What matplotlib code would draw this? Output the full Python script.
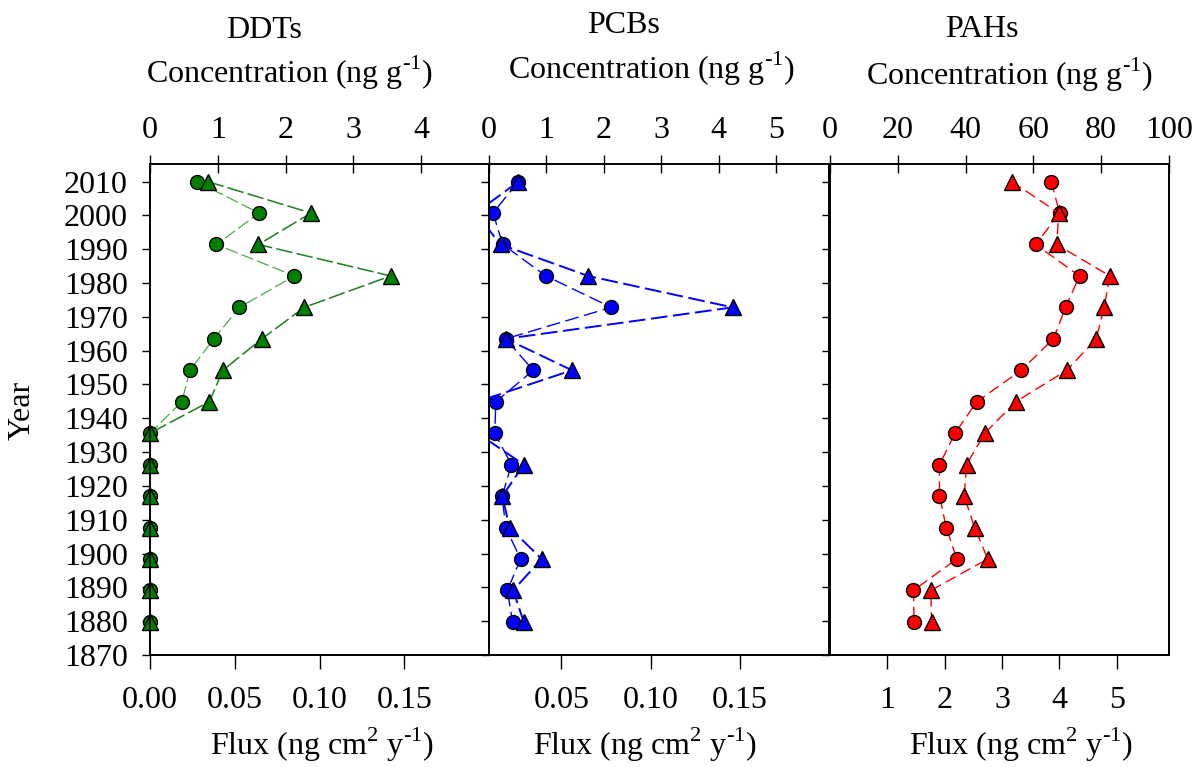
import matplotlib
matplotlib.use("Agg")
import matplotlib.pyplot as plt

plt.rcParams['font.family'] = ['Liberation Serif', 'DejaVu Serif']
plt.rcParams['mathtext.fontset'] = 'custom'
plt.rcParams['mathtext.rm'] = 'Liberation Serif'
plt.rcParams['lines.scale_dashes'] = False

# ---- data ----
years = [2010.0, 2000.7, 1991.4, 1982.1, 1972.8, 1963.5, 1954.2, 1944.9,
         1935.6, 1926.3, 1917.0, 1907.7, 1898.4, 1889.1, 1879.8]

ddt_conc = [0.69, 1.61, 0.98, 2.13, 1.32, 0.94, 0.59, 0.47, 0, 0, 0, 0, 0, 0, 0]
ddt_flux = [0.034, 0.095, 0.064, 0.142, 0.091, 0.066, 0.043, 0.035, 0, 0, 0, 0, 0, 0, 0]

pcb_conc = [0.51, 0.07, 0.24, 0.99, 2.13, 0.29, 0.77, 0.12, 0.10, 0.39, 0.23, 0.29, 0.55, 0.32, 0.41]
pcb_flux = [0.026, 0.002, 0.016, 0.065, 0.146, 0.019, 0.056, 0.003, 0.003, 0.029, 0.017, 0.021, 0.039, 0.023, 0.029]

pah_conc = [65.3, 67.7, 60.7, 73.6, 69.5, 65.9, 56.4, 43.3, 36.9, 32.3, 32.3, 34.3, 37.4, 24.6, 24.8]
pah_flux = [3.17, 3.99, 3.95, 4.88, 4.78, 4.64, 4.13, 3.24, 2.70, 2.38, 2.34, 2.52, 2.75, 1.76, 1.77]

titles = ['DDTs', 'PCBs', 'PAHs']
year_ticks = list(range(1870, 2011, 10))

ddt_conc_ticks = [0, 1, 2, 3, 4]
pcb_conc_ticks = [0, 1, 2, 3, 4, 5]
pah_conc_ticks = [0, 20, 40, 60, 80, 100]
ddt_flux_ticks = [0.00, 0.05, 0.10, 0.15]
ddt_flux_labels = ['0.00', '0.05', '0.10', '0.15']
pcb_flux_ticks = [0.05, 0.10, 0.15]
pcb_flux_labels = ['0.05', '0.10', '0.15']
pah_flux_ticks = [1, 2, 3, 4, 5]
pah_flux_labels = ['1', '2', '3', '4', '5']

W, H = 1198, 767
fig = plt.figure(figsize=(W / 100, H / 100), dpi=100)

FS = 23
panels = [
    dict(left=150, right=489, conc=ddt_conc, flux=ddt_flux, color='green',
         cline='#4da64d', fline='#1a801a',
         cxlim=(0, 5), fxlim=(0, 0.2), cticks=ddt_conc_ticks,
         fticks=ddt_flux_ticks, flabels=ddt_flux_labels, clip=False,
         c_ls=dict(lw=0.9, dashes=(9, 3)),
         f_ls=dict(lw=1.1, dashes=(12, 3))),
    dict(left=489, right=829, conc=pcb_conc, flux=pcb_flux, color='blue',
         cline='blue', fline='blue',
         cxlim=(0, 5.92), fxlim=(0.0095, 0.2), cticks=pcb_conc_ticks,
         fticks=pcb_flux_ticks, flabels=pcb_flux_labels, clip=True,
         c_ls=dict(lw=1.0, dashes=(10, 4)),
         f_ls=dict(lw=1.4, dashes=(12, 4))),
    dict(left=830, right=1169, conc=pah_conc, flux=pah_flux, color='red',
         cline='red', fline='red',
         cxlim=(0, 100), fxlim=(0, 5.91), cticks=pah_conc_ticks,
         fticks=pah_flux_ticks, flabels=pah_flux_labels, clip=True,
         c_ls=dict(lw=1.0, dashes=(8, 4)),
         f_ls=dict(lw=1.0, dashes=(8, 4))),
]

top_px, bot_px = 164, 655
for i, p in enumerate(panels):
    ax = fig.add_axes([p['left'] / W, 1 - bot_px / H,
                       (p['right'] - p['left']) / W, (bot_px - top_px) / H])
    ax.set_ylim(1870, 2015.2)
    ax.set_xlim(*p['cxlim'])
    ax.plot(p['conc'], years, color=p['cline'], marker='o', markersize=10,
            markerfacecolor=p['color'], markeredgecolor='black',
            markeredgewidth=1.0, clip_on=p['clip'], **p['c_ls'])

    tw = ax.twiny()
    tw.set_xlim(*p['fxlim'])
    tw.plot(p['flux'], years, color=p['fline'], marker='^', markersize=11,
            markerfacecolor=p['color'], markeredgecolor='black',
            markeredgewidth=1.0, clip_on=p['clip'], **p['f_ls'])
    tw.xaxis.tick_bottom()
    tw.xaxis.set_label_position('bottom')
    tw.set_xticks(p['fticks'])
    tw.set_xticklabels(p['flabels'])
    tw.tick_params(axis='x', direction='out', length=10, width=1.0,
                   labelsize=FS, pad=12, top=False, bottom=True,
                   labeltop=False, labelbottom=True)
    for s in tw.spines.values():
        s.set_linewidth(1.2)

    # concentration axis on top (set after twiny, which resets it)
    ax.xaxis.tick_top()
    ax.set_xticks(p['cticks'])
    ax.set_xticklabels([str(t) for t in p['cticks']])
    ax.tick_params(axis='x', which='major', direction='inout', length=13,
                   width=1.0, labelsize=FS, pad=7, top=True, bottom=False,
                   labeltop=True, labelbottom=False)
    ax.set_yticks(year_ticks)
    ax.tick_params(axis='y', direction='out', length=6, width=1.0,
                   labelsize=FS, pad=10, left=True, right=False,
                   labelleft=(i == 0))
    for s in ax.spines.values():
        s.set_linewidth(1.2)

# titles and axis labels placed at the reference positions
title_pos = [(264, 38), (624, 33), (982, 37)]
conc_pos = [(290, 83), (652, 79), (1010, 85)]
flux_pos = [(322, 755), (645, 755), (1021, 755)]
conc_label = r'Concentration (ng g$^{\text{-1}}$)'
flux_label = r'Flux (ng cm$^{\text{2}}$ y$^{\text{-1}}$)'
for t, (x, y) in zip(titles, title_pos):
    fig.text(x / W, 1 - y / H, t, ha='center', va='baseline', fontsize=FS)
for (x, y) in conc_pos:
    fig.text(x / W, 1 - y / H, conc_label, ha='center', va='baseline',
             fontsize=FS)
for (x, y) in flux_pos:
    fig.text(x / W, 1 - y / H, flux_label, ha='center', va='baseline',
             fontsize=FS)
fig.text(22 / W, 1 - 410 / H, 'Year', rotation=90, ha='center', va='center',
         fontsize=FS)

fig.savefig('out.png', dpi=100)
